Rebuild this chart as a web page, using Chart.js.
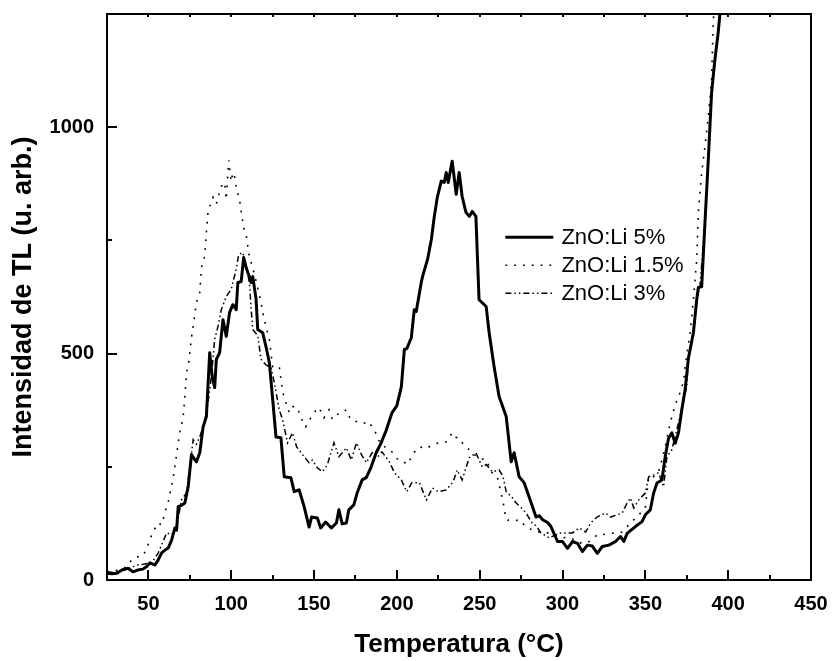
<!DOCTYPE html>
<html>
<head>
<meta charset="utf-8">
<title>Intensidad de TL vs Temperatura</title>
<script src="https://cdn.jsdelivr.net/npm/chart.js@4/dist/chart.umd.min.js"></script>
<style>
  html, body { margin: 0; padding: 0; background: #fff; }
  #wrap { width: 833px; height: 661px; }
</style>
</head>
<body>
<div id="wrap"><canvas id="tl" width="833" height="661"></canvas></div>
<script>
// Glow curves: temperature (°C) and TL intensity (arb. units) for each Li content.
const seriesNames = ['ZnO:Li 5%', 'ZnO:Li 1.5%', 'ZnO:Li 3%'];

const temp5 = [25, 28, 31, 34, 37.7, 40.7, 43.5, 46.7, 49, 51, 54, 56, 58, 60, 62, 64, 66, 67, 68, 70,
  72, 74, 76, 78, 79, 81, 83, 85, 87, 88.5, 90, 91, 93, 95, 97, 99, 101, 103, 104, 106,
  107.5, 109, 110, 111, 112, 113, 115, 116, 119, 121, 123, 125, 127, 130, 132, 136, 138, 141, 144, 147,
  148.5, 152, 154, 157, 160.5, 163.5, 165, 167, 169.5, 171, 174, 176, 179, 181.5, 184.5, 187.5, 190.5, 193.5, 197, 200,
  202.7, 204.5, 206, 208.7, 210.5, 211.7, 214.7, 215.5, 218.5, 220.8, 222.6, 224.4, 226.8, 228.6, 229.8, 231, 232.8, 233.4, 235.8, 237.6,
  239.4, 241.7, 243.7, 245.5, 247.7, 249.6, 253.9, 255.7, 258.7, 261.7, 266, 269, 270.8, 273.8, 276.8, 279.8, 284, 286, 288, 291,
  293, 297, 300, 303, 306, 309, 312, 315, 318, 321, 324, 328, 332, 335, 337, 339, 344, 348, 350, 353,
  355, 357, 360, 362, 364, 366, 368, 370, 372, 374, 376, 379, 381, 382, 384, 386, 388, 390, 392, 394, 396];
const tl5 = [15, 14, 15, 22, 26, 18, 22, 24, 30, 38, 33, 45, 60, 66, 71, 88, 115, 110, 162, 165,
  170, 206, 277, 266, 261, 281, 338, 361, 502, 450, 425, 487, 502, 575, 538, 591, 608, 597, 657, 659,
  712, 690, 679, 670, 657, 670, 620, 553, 546, 515, 480, 400, 316, 314, 228, 226, 195, 199, 162, 117,
  139, 137, 115, 128, 115, 126, 155, 124, 126, 155, 166, 192, 221, 226, 250, 281, 303, 330, 369, 385,
  427, 509, 511, 535, 597, 593, 657, 670, 708, 752, 803, 845, 881, 878, 900, 878, 914, 925, 852, 900,
  847, 812, 803, 814, 803, 619, 604, 546, 471, 405, 361, 261, 281, 228, 215, 184, 139, 142, 133, 127,
  118, 85, 85, 70, 85, 81, 63, 77, 75, 59, 74, 77, 85, 96, 85, 103, 118, 129, 144, 155,
  192, 214, 221, 273, 313, 325, 302, 325, 376, 420, 490, 546, 619, 646, 648, 790, 929, 1077, 1150, 1210, 1290];

const temp15 = [25, 29, 33, 37, 40, 43, 46.7, 49, 52, 55.7, 58, 60, 62, 65, 67, 69, 71, 72, 73, 74.4,
  76, 78, 79, 81, 82, 84, 85, 86, 89, 91, 92, 94, 96, 97, 98, 98.5, 100, 101, 102, 103,
  105, 106, 107, 108, 109, 110, 111, 113, 115, 118, 119.5, 121, 123, 125, 129, 131, 133, 135, 137, 140,
  142, 145, 148, 150, 153, 156, 159, 161, 163.5, 166, 169.5, 172, 175.6, 179, 183, 186, 188, 190, 193.6, 197,
  200, 203, 206, 209, 211, 213.6, 217.8, 221.5, 225.6, 229.8, 233.5, 235.5, 237.6, 240, 243, 245.5, 249, 253.9, 257.5, 260.5,
  262, 264, 266, 270, 274, 278, 282, 287.6, 292, 296, 299, 302, 305, 310, 315, 318, 321, 324, 327, 332,
  336, 340, 343, 346, 350, 352, 355, 358, 360, 362, 365, 368, 371, 373, 374, 377, 379, 381, 382, 384,
  386, 388, 390, 391, 392];
const tl15 = [18, 20, 22, 30, 45, 51, 53, 70, 100, 126, 122, 150, 173, 226, 277, 327, 361, 405, 458, 482,
  535, 586, 613, 635, 690, 715, 768, 814, 845, 830, 845, 869, 878, 840, 903, 927, 880, 900, 892, 867,
  840, 814, 790, 768, 763, 737, 712, 690, 660, 613, 582, 560, 531, 471, 471, 416, 392, 370, 383, 381,
  358, 338, 358, 370, 381, 358, 376, 355, 365, 368, 376, 355, 350, 345, 350, 332, 320, 300, 292, 283,
  268, 265, 255, 272, 285, 294, 290, 299, 303, 305, 325, 315, 314, 300, 290, 281, 270, 265, 237, 230,
  206, 175, 133, 130, 133, 117, 110, 104, 104, 100, 95, 93, 93, 82, 82, 90, 100, 100, 102, 104,
  106, 122, 133, 144, 159, 228, 228, 240, 265, 294, 347, 387, 414, 438, 471, 546, 619, 708, 812, 900,
  958, 1024, 1106, 1234, 1290];

const temp3 = [25, 30, 35, 40, 43, 47, 52, 56, 61, 64, 67, 70, 73, 75, 77, 79, 81, 84, 86, 88,
  90, 92, 94, 97, 100, 103, 104.5, 107, 109, 111, 112, 113, 116, 118, 121, 124, 126, 129, 131, 134,
  137, 139.5, 143, 147, 149, 152, 155, 158, 162, 165, 169.5, 172.5, 175.6, 178.6, 181.6, 185, 188, 191, 195.5, 198.5,
  202.7, 206, 209, 213.6, 217.8, 221.5, 225, 229.8, 234, 236.4, 239.4, 243.7, 247.7, 251.5, 254, 257.5, 261.7, 264, 266, 269,
  272, 275, 278, 281.6, 284, 287, 292, 296, 299, 302, 306, 310, 314, 317, 320.8, 326, 329, 333, 336, 339,
  341, 343, 346, 350, 352, 355, 358, 361, 363, 366, 369, 371, 373, 375, 376, 379, 381, 383, 386, 388,
  390, 392, 394, 396];
const tl3 = [18, 16, 22, 28, 33, 35, 38, 60, 104, 100, 117, 177, 192, 250, 310, 300, 316, 350, 392, 450,
  531, 560, 597, 626, 642, 686, 719, 723, 693, 657, 600, 553, 540, 487, 475, 469, 436, 376, 354, 303,
  325, 294, 277, 259, 265, 248, 239, 254, 303, 272, 292, 265, 303, 277, 259, 281, 270, 283, 261, 237,
  221, 195, 215, 215, 177, 203, 195, 199, 217, 243, 221, 270, 281, 250, 255, 239, 243, 230, 195, 185,
  170, 160, 148, 126, 120, 104, 93, 100, 104, 104, 104, 115, 106, 126, 139, 148, 139, 144, 148, 170,
  181, 159, 177, 192, 228, 232, 237, 206, 272, 288, 332, 361, 398, 427, 490, 546, 619, 650, 790, 929,
  1077, 1150, 1210, 1290];

// Axis ticks: every 25 °C / 250 units, with labels on the major ones only.
const xTicks = [25, 50, 75, 100, 125, 150, 175, 200, 225, 250, 275, 300, 325, 350, 375, 400, 425, 450];
const xLabelled = [50, 100, 150, 200, 250, 300, 350, 400, 450];
const yTicks = [0, 250, 500, 750, 1000, 1250];
const yLabelled = [0, 500, 1000];

const FONT = "'Liberation Sans', Arial, Helvetica, sans-serif";

function pairs(xs, ys) {
  return xs.map((x, i) => ({ x: x, y: ys[i] }));
}

// Let the layout padding alone decide the plot area (no label overhang).
function noOverhang(scale) {
  scale.paddingTop = 0;
  scale.paddingBottom = 0;
  scale.paddingLeft = 0;
  scale.paddingRight = 0;
}

// Inward-pointing ticks and the closed frame around the plot area.
const framePlugin = {
  id: 'frame',
  afterDatasetsDraw(chart) {
    const { ctx, chartArea: a, scales } = chart;
    const xs = scales.x, ys = scales.y;
    ctx.save();
    ctx.strokeStyle = '#000';
    ctx.lineWidth = 2;
    ctx.lineCap = 'butt';
    ctx.beginPath();
    xTicks.forEach(v => {
      const px = Math.round(xs.getPixelForValue(v));
      const len = xLabelled.includes(v) ? 10 : 5;
      ctx.moveTo(px, a.bottom);
      ctx.lineTo(px, a.bottom - len);
      ctx.moveTo(px, a.top);
      ctx.lineTo(px, a.top + 3);
    });
    yTicks.forEach(v => {
      const py = Math.round(ys.getPixelForValue(v));
      const len = yLabelled.includes(v) ? 10 : 5;
      ctx.moveTo(a.left, py);
      ctx.lineTo(a.left + len, py);
    });
    ctx.stroke();
    ctx.strokeRect(a.left, a.top, a.right - a.left, a.bottom - a.top);
    ctx.restore();
  }
};

// Legend drawn inside the plot area, beside the second peak.
const insideLegend = {
  id: 'insideLegend',
  afterDraw(chart) {
    const { ctx, scales } = chart;
    const x0 = scales.x.getPixelForValue(265.5);
    const y0 = scales.y.getPixelForValue(757);
    const rowH = 28;
    const lineLen = 48;
    ctx.save();
    ctx.font = '22px ' + FONT;
    ctx.fillStyle = '#000';
    ctx.textBaseline = 'middle';
    chart.data.datasets.forEach((ds, i) => {
      const y = y0 + i * rowH;
      ctx.beginPath();
      ctx.strokeStyle = ds.borderColor;
      ctx.lineWidth = ds.borderWidth;
      ctx.setLineDash(ds.borderDash || []);
      ctx.moveTo(x0, y);
      ctx.lineTo(x0 + lineLen, y);
      ctx.stroke();
      ctx.setLineDash([]);
      ctx.fillText(ds.label, x0 + lineLen + 8, y + 1);
    });
    ctx.restore();
  }
};

new Chart(document.getElementById('tl'), {
  type: 'line',
  data: {
    datasets: [
      {
        label: seriesNames[0],
        data: pairs(temp5, tl5),
        borderColor: '#000',
        borderWidth: 3,
        pointRadius: 0,
        tension: 0,
        borderJoinStyle: 'round'
      },
      {
        label: seriesNames[1],
        data: pairs(temp15, tl15),
        borderColor: '#000',
        borderWidth: 1.6,
        borderDash: [1.8, 7],
        pointRadius: 0,
        tension: 0
      },
      {
        label: seriesNames[2],
        data: pairs(temp3, tl3),
        borderColor: '#000',
        borderWidth: 1.5,
        borderDash: [6, 3, 1.5, 3, 1.5, 3],
        pointRadius: 0,
        tension: 0
      }
    ]
  },
  options: {
    responsive: false,
    animation: false,
    devicePixelRatio: 1,
    layout: { padding: { top: 14, right: 22, left: 0, bottom: 0 } },
    plugins: {
      legend: { display: false },
      tooltip: { enabled: false }
    },
    scales: {
      x: {
        type: 'linear',
        min: 25,
        max: 450,
        afterBuildTicks(scale) { scale.ticks = xTicks.map(v => ({ value: v })); },
        afterFit(scale) { scale.height = 81; noOverhang(scale); },
        grid: { display: false, drawTicks: false },
        border: { display: false },
        ticks: {
          autoSkip: false,
          maxRotation: 0,
          padding: 12,
          color: '#000',
          font: { family: FONT, size: 20, weight: 'bold' },
          callback: v => (xLabelled.includes(v) ? String(v) : '')
        },
        title: {
          display: true,
          text: 'Temperatura (°C)',
          color: '#000',
          font: { family: FONT, size: 26, weight: 'bold' },
          padding: { top: 0, bottom: 1 }
        }
      },
      y: {
        type: 'linear',
        min: 0,
        max: 1250,
        afterBuildTicks(scale) { scale.ticks = yTicks.map(v => ({ value: v })); },
        afterFit(scale) { scale.width = 107; noOverhang(scale); },
        grid: { display: false, drawTicks: false },
        border: { display: false },
        ticks: {
          autoSkip: false,
          padding: 13,
          color: '#000',
          font: { family: FONT, size: 20, weight: 'bold' },
          callback: v => (yLabelled.includes(v) ? String(v) : '')
        },
        title: {
          display: true,
          text: 'Intensidad de TL (u. arb.)',
          color: '#000',
          font: { family: FONT, size: 27, weight: 'bold' },
          padding: { top: 7, bottom: 0 }
        }
      }
    }
  },
  plugins: [framePlugin, insideLegend]
});
</script>
</body>
</html>
